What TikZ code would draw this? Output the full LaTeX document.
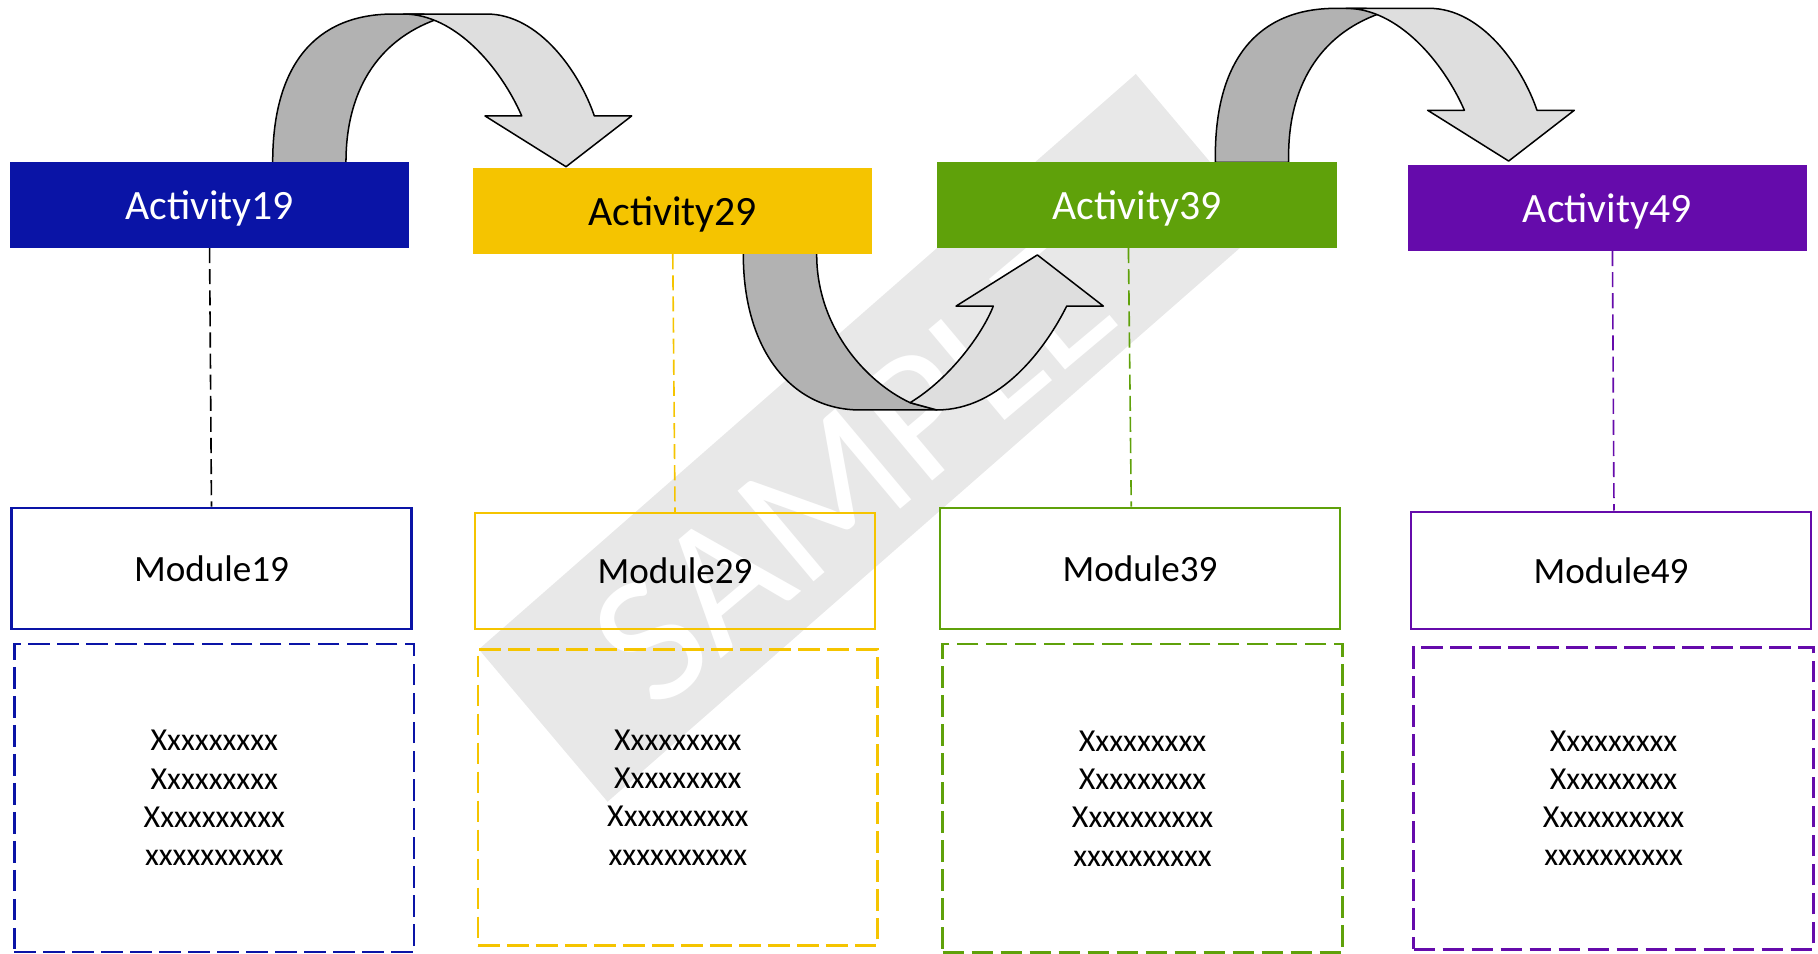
\documentclass[tikz,border=0pt]{standalone}
\usepackage{fontspec}
\setmainfont{Carlito}
\definecolor{cblue}{RGB}{10,20,166}
\definecolor{cyellow}{RGB}{245,196,0}
\definecolor{cgreen}{RGB}{95,161,10}
\definecolor{cpurple}{RGB}{101,11,171}
\definecolor{adark}{RGB}{178,178,178}
\definecolor{alight}{RGB}{222,222,222}
\definecolor{wmgray}{RGB}{232,232,232}
\begin{document}
\begin{tikzpicture}[x=0.5pt,y=-0.5pt,
  actbox/.style={rectangle, minimum width=172.1pt, minimum height=36.95pt, inner sep=0pt, text depth=0pt, font=\fontsize{18}{21}\selectfont},
  modbox/.style={rectangle, draw, line width=1pt, minimum width=172.4pt, inner sep=0pt, font=\fontsize{16}{19}\selectfont},
  dbox/.style={rectangle, draw, line width=1.1pt, dash pattern=on 9.35pt off 3.15pt, minimum width=172.4pt, inner sep=0pt, align=center, font=\fontsize{13.8}{16.5}\selectfont},
  conn/.style={line width=0.7pt, dash pattern=on 6.5pt off 2.6pt},
  backside/.style={fill=adark, draw=black, line width=0.65pt, line join=round},
  frontside/.style={fill=alight, draw=black, line width=0.65pt, line join=round},
  uturn/.pic={
    \path[backside] (235.2,145) -- (235.2,139.7) .. controls (235.2,56.8) and (271.6,12.1) .. (339.2,12.1) -- (365,12.1) -- (376.6,16.7) .. controls (324.8,35.2) and (298.4,79.7) .. (298.4,139.7) -- (298.4,145) -- cycle;
    \path[frontside] (348,12.1) -- (419.8,12.1) .. controls (464.8,12.1) and (499.8,62.2) .. (512.6,100) -- (544.8,100) -- (488.2,143.8) -- (418.3,100) -- (450,100) .. controls (432,58.8) and (393,12.1) .. (348,12.1) -- cycle;
  }
]
\useasboundingbox (0,0) rectangle (1568,822.8);

% watermark
\fill[wmgray] (979.6,63.8) -- (1090.6,195.3) -- (524,691.5) -- (413,560) -- cycle;
\node[rotate=40, text=white, inner sep=0pt, font=\fontsize{79.5}{80}\selectfont] (wm) at (735,407) {SAMPLE};

% curved arrows
\pic at (0,0) {uturn};
\pic at (813,-4.9) {uturn};
\path[backside] (641.1,215) -- (641.1,219.9) .. controls (641.1,300.1) and (681.4,353.6) .. (741.8,353.6) -- (808,353.6) -- (784.9,347.3) .. controls (744.2,328.1) and (704.4,279.9) .. (704.4,219.9) -- (704.4,215) -- cycle;
\path[frontside] (784.9,347.3) .. controls (819.2,326.7) and (847.5,287.75) .. (856.7,264) -- (824.6,264) -- (894.7,219.9) -- (951.6,264) -- (920,264) .. controls (902,300.1) and (863,353.6) .. (808,353.6) -- cycle;

% activity boxes
\node[actbox, fill=cblue, text=white] (a1) at (180.75,176.6) {Activity19};
\node[actbox, fill=cyellow, text=black] (a2) at (580.25,181.9) {Activity29};
\node[actbox, fill=cgreen, text=white] (a3) at (980.65,176.6) {Activity39};
\node[actbox, fill=cpurple, text=white] (a4) at (1386.2,179.15) {Activity49};

% module boxes
\node[modbox, draw=cblue, minimum height=52.3pt] (m1) at (182.4,490.2) {Module19};
\node[modbox, draw=cyellow, minimum height=50pt] (m2) at (582.2,492.5) {Module29};
\node[modbox, draw=cgreen, minimum height=52.25pt] (m3) at (983.2,490.25) {Module39};
\node[modbox, draw=cpurple, minimum height=50.6pt] (m4) at (1389.45,491.9) {Module49};

% detail boxes
\node[dbox, draw=cblue, minimum height=132.85pt] (d1) at (184.85,688.35) {Xxxxxxxxx\\Xxxxxxxxx\\Xxxxxxxxxx\\xxxxxxxxxx};
\node[dbox, draw=cyellow, minimum height=127.6pt] (d2) at (584.65,687.9) {Xxxxxxxxx\\Xxxxxxxxx\\Xxxxxxxxxx\\xxxxxxxxxx};
\node[dbox, draw=cgreen, minimum height=133.1pt] (d3) at (985.45,688.6) {Xxxxxxxxx\\Xxxxxxxxx\\Xxxxxxxxxx\\xxxxxxxxxx};
\node[dbox, draw=cpurple, minimum height=130.25pt] (d4) at (1391.7,688.55) {Xxxxxxxxx\\Xxxxxxxxx\\Xxxxxxxxxx\\xxxxxxxxxx};

% connectors
\draw[conn, black] (a1.south) -- (m1.north);
\draw[conn, cyellow] (a2.south) -- (m2.north);
\draw[conn, cgreen] ([xshift=-3.7pt]a3.south) -- ([xshift=-3.75pt]m3.north);
\draw[conn, cpurple] ([xshift=2.25pt]a4.south) -- ([xshift=1.3pt]m4.north);
\end{tikzpicture}
\end{document}
